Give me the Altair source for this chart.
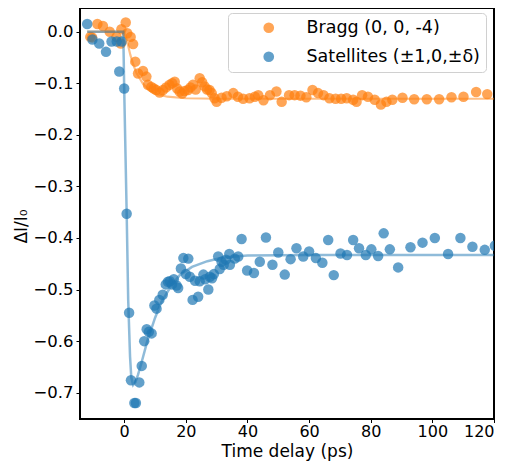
import altair as alt
import pandas as pd

BRAGG = "Bragg (0, 0, -4)"
SAT = "Satellites (±1,0,±δ)"

bragg_t = [-11, -10.4, -8.7, -6.9, -4.7, -2.5, -1.1, -0.9, 0.5, 1.0, 2.1, 2.9, 3.6, 4.5,
           6.1, 7.2, 7.7, 8.8, 9.6, 10.4, 11.5, 12.6, 13.6, 14.7, 15.6, 16.4, 17.2, 18.0,
           18.8, 19.6, 20.7, 21.5, 22.3, 23.2, 24.5, 25.3, 26.1, 26.9, 27.7, 28.4, 29.3,
           30.0, 31.6, 33.3, 35.4, 36.9, 38.6, 40.7, 42.4, 43.5, 45.2, 47.3, 49.4, 51.1,
           53.5, 55.3, 57.2, 59.1, 61.1, 62.9, 64.7, 66.6, 68.6, 70.4, 72.2, 74.3, 75.4,
           77.2, 79.1, 81.3, 83.3, 85.1, 87.0, 90.3, 94.1, 98.2, 102.2, 106.2, 110.1,
           114.2, 117.8]
bragg_y = [-0.010, -0.011, 0.015, 0.011, 0.000, -0.010, -0.023, 0.005, 0.018, -0.003,
           -0.010, -0.024, -0.058, -0.081, -0.076, -0.087, -0.103, -0.107, -0.110, -0.113,
           -0.118, -0.113, -0.108, -0.103, -0.100, -0.097, -0.110, -0.116, -0.120, -0.115,
           -0.113, -0.108, -0.103, -0.112, -0.090, -0.098, -0.106, -0.112, -0.113, -0.119,
           -0.129, -0.136, -0.128, -0.125, -0.119, -0.126, -0.130, -0.129, -0.126, -0.123,
           -0.133, -0.123, -0.116, -0.136, -0.123, -0.123, -0.124, -0.127, -0.113, -0.119,
           -0.123, -0.129, -0.130, -0.130, -0.129, -0.132, -0.136, -0.123, -0.126, -0.132,
           -0.141, -0.136, -0.132, -0.128, -0.131, -0.131, -0.131, -0.127, -0.126, -0.117,
           -0.121]

sat_t = [-12.0, -10.3, -8.1, -5.9, -4.1, -2.4, -1.6, -0.8, 0.0, 0.8, 1.6, 2.2, 3.3, 3.8,
         4.9, 5.7, 6.5, 7.3, 8.0, 8.9, 9.8, 10.5, 11.4, 12.5, 13.5, 14.2, 14.8, 15.5, 16.1,
         17.0, 17.5, 18.4, 19.2, 20.0, 20.8, 21.3, 22.2, 23.0, 24.0, 24.5, 25.7, 26.3, 27.3,
         27.8, 28.5, 29.1, 30.5, 31.0, 31.6, 32.3, 33.0, 34.1, 34.3, 35.9, 37.0, 38.1,
         39.9, 42.1, 44.0, 46.0, 48.1, 50.0, 52.1, 54.0, 55.9, 58.1, 60.0, 62.2, 64.3,
         66.2, 68.0, 70.2, 72.3, 74.3, 76.2, 78.4, 80.2, 82.4, 84.2, 86.2, 88.9, 92.9,
         96.8, 100.8, 105.1, 109.1, 113.0, 117.0, 120.3]
sat_y = [0.015, -0.015, -0.023, -0.039, -0.019, -0.019, -0.077, -0.019, -0.110, -0.353,
         -0.545, -0.676, -0.720, -0.720, -0.680, -0.648, -0.600, -0.577, -0.582, -0.585,
         -0.531, -0.537, -0.520, -0.510, -0.490, -0.485, -0.484, -0.490, -0.480, -0.492,
         -0.497, -0.459, -0.439, -0.470, -0.440, -0.475, -0.520, -0.483, -0.514, -0.484,
         -0.471, -0.480, -0.500, -0.475, -0.478, -0.470, -0.436, -0.460, -0.446, -0.452,
         -0.442, -0.431, -0.452, -0.440, -0.436, -0.402, -0.463, -0.468, -0.446, -0.399,
         -0.452, -0.428, -0.471, -0.441, -0.420, -0.436, -0.426, -0.439, -0.448, -0.404,
         -0.472, -0.430, -0.433, -0.404, -0.420, -0.433, -0.422, -0.435, -0.391, -0.422,
         -0.457, -0.418, -0.409, -0.400, -0.431, -0.400, -0.417, -0.423, -0.415]

sat_fit_t = [-12.0, -0.3, 0.0, 0.8, 1.3, 1.9, 2.3, 2.9, 3.6, 4.5, 5.7, 7.5, 10.0, 12.0,
             15.0, 18.0, 22.0, 27.0, 32.0, 40.0, 60.0, 120.0]
sat_fit_y = [0.0, 0.0, -0.11, -0.35, -0.52, -0.63, -0.67, -0.685, -0.68, -0.665, -0.64,
             -0.60, -0.555, -0.525, -0.495, -0.472, -0.456, -0.445, -0.438, -0.434,
             -0.433, -0.433]

bragg_fit_t = [-12.0, 0.0, 1.0, 2.0, 3.0, 4.0, 6.0, 8.0, 10.0, 14.0, 20.0, 30.0, 120.0]
bragg_fit_y = [0.0, 0.0, -0.02, -0.045, -0.065, -0.08, -0.10, -0.113, -0.12, -0.126,
               -0.129, -0.13, -0.13]

pts = pd.DataFrame({
    "t": bragg_t + sat_t,
    "y": bragg_y + sat_y,
    "series": [BRAGG] * len(bragg_t) + [SAT] * len(sat_t),
})
fit_b = pd.DataFrame({"t": bragg_fit_t, "y": bragg_fit_y})
fit_s = pd.DataFrame({"t": sat_fit_t, "y": sat_fit_y})

xs = alt.Scale(domain=[-14.34, 120], nice=False, zero=False)
ys = alt.Scale(domain=[-0.751, 0.046], nice=False, zero=False)

xax = alt.Axis(values=[0, 20, 40, 60, 80, 100, 120], title="Time delay (ps)", format="d",
               labelPadding=1, tickSize=3.5, labelFontSize=16,
               titleBaseline="alphabetic", titleY=37.5)
yax = alt.Axis(values=[0.0, -0.1, -0.2, -0.3, -0.4, -0.5, -0.6, -0.7],
               title="ΔI/I₀", format=".1f", titlePadding=2, titleY=218)

points = alt.Chart(pts).mark_circle(size=110, opacity=0.7, clip=True).encode(
    x=alt.X("t:Q", scale=xs, axis=xax),
    y=alt.Y("y:Q", scale=ys, axis=yax),
    color=alt.Color("series:N",
                    scale=alt.Scale(domain=[BRAGG, SAT], range=["#ff7f0e", "#1f77b4"]),
                    legend=alt.Legend(title=None)),
    order=alt.Order("series:N"),
)

line_b = alt.Chart(fit_b).mark_line(color="#ff7f0e", opacity=0.5, strokeWidth=2.2,
                                     clip=True).encode(
    x=alt.X("t:Q", scale=xs), y=alt.Y("y:Q", scale=ys))
line_s = alt.Chart(fit_s).mark_line(color="#1f77b4", opacity=0.5, strokeWidth=2.5,
                                     clip=True).encode(
    x=alt.X("t:Q", scale=xs), y=alt.Y("y:Q", scale=ys))

chart = alt.layer(points, line_b, line_s).properties(
    width=414, height=411,
    autosize=alt.AutoSizeParams(type="none"),
    padding={"left": 72, "top": 0, "right": 8, "bottom": 43},
).configure_view(
    stroke="black", strokeWidth=2,
).configure_axis(
    domain=False, grid=False, ticks=True, tickColor="black", tickSize=4, tickWidth=1,
    labelColor="black", labelFont="DejaVu Sans", labelFontSize=16.5, labelPadding=3,
    titleFont="DejaVu Sans", titleFontSize=17, titleFontWeight="normal", titleColor="black",
).configure_legend(
    orient="none", legendX=148, legendY=5,
    fillColor="rgba(255,255,255,0.8)", strokeColor="#d0d0d0", cornerRadius=4,
    padding=6, symbolOffset=26, labelOffset=29, rowPadding=10,
    symbolSize=115, symbolOpacity=0.7, symbolType="circle", symbolStrokeWidth=0,
    labelFont="DejaVu Sans", labelFontSize=17.5, labelColor="black", labelLimit=400,
)

chart.save("out.html", embed_options={"renderer": "svg", "actions": False})
